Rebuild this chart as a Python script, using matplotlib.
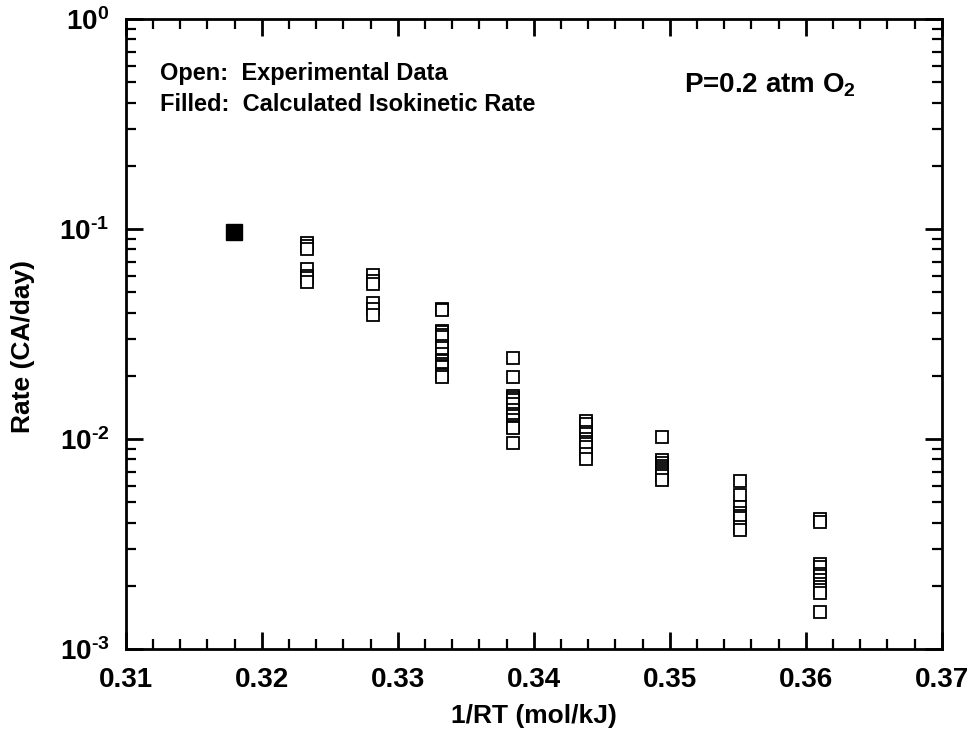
import matplotlib
matplotlib.use("Agg")
import matplotlib.pyplot as plt
from matplotlib.ticker import LogLocator, FixedLocator, MultipleLocator, NullFormatter

plt.rcParams['font.family'] = ['Liberation Sans', 'DejaVu Sans']
plt.rcParams['font.weight'] = 'bold'
plt.rcParams['mathtext.fontset'] = 'custom'
plt.rcParams['mathtext.rm'] = 'Liberation Sans:bold'
plt.rcParams['mathtext.bf'] = 'Liberation Sans:bold'
plt.rcParams['mathtext.it'] = 'Liberation Sans:bold'

# Experimental data (open squares): x = 1/RT, y = rate
x_cols = [0.32333, 0.32818, 0.33327, 0.33848, 0.34386, 0.34945, 0.35518, 0.36105]
rates = [
    [0.0862, 0.0834, 0.0807, 0.0642, 0.0596, 0.0586, 0.0558],
    [0.0601, 0.0564, 0.0550, 0.0445, 0.0415, 0.0389],
    [0.0416, 0.0410, 0.0328, 0.0322, 0.0313, 0.0306, 0.0276, 0.0271, 0.0255,
     0.0239, 0.0234, 0.0228, 0.0223, 0.0220, 0.0205, 0.0201, 0.0197],
    [0.0242, 0.0197, 0.0161, 0.0157, 0.0153, 0.0146, 0.0138, 0.0132, 0.0129,
     0.0123, 0.0116, 0.0114, 0.0113, 0.00952],
    [0.01216, 0.0118, 0.01085, 0.0106, 0.01002, 0.00966, 0.00942, 0.00915,
     0.00851, 0.00799],
    [0.01017, 0.00798, 0.00769, 0.00744, 0.00724, 0.00712, 0.00696, 0.00681,
     0.00663, 0.00638],
    [0.00629, 0.00544, 0.00477, 0.00445, 0.00432, 0.00421, 0.00379, 0.00368],
    [0.00414, 0.00402, 0.00255, 0.00246, 0.00228, 0.00222, 0.00214, 0.00205,
     0.00197, 0.00192, 0.00184, 0.00150],
]
# Calculated isokinetic rate (filled square)
iso_x = [0.31795]
iso_y = [0.0968]

xticks = [0.31, 0.32, 0.33, 0.34, 0.35, 0.36, 0.37]
xticklabels = ['0.31', '0.32', '0.33', '0.34', '0.35', '0.36', '0.37']
yticks = [1e-3, 1e-2, 1e-1, 1e0]
yticklabels = ['$\\mathbf{10^{\u2010 3}}$', '$\\mathbf{10^{\u2010 2}}$',
               '$\\mathbf{10^{\u2010 1}}$', '$\\mathbf{10^{0}}$']

fig = plt.figure(figsize=(9.76, 7.34), dpi=100)
ax = fig.add_axes([0.129, 0.1158, 0.836, 0.8583])

for xc, ys in zip(x_cols, rates):
    ax.plot([xc] * len(ys), ys, linestyle='none', marker='s', markersize=9.2,
            markerfacecolor='white', markeredgecolor='black', markeredgewidth=1.3)
ax.plot(iso_x, iso_y, linestyle='none', marker='s', markersize=11,
        markerfacecolor='black', markeredgecolor='black')

ax.set_yscale('log')
ax.set_xlim(0.31, 0.37)
ax.set_ylim(1e-3, 1e0)

ax.xaxis.set_major_locator(FixedLocator(xticks))
ax.set_xticklabels(xticklabels)
ax.xaxis.set_minor_locator(MultipleLocator(0.002))
ax.yaxis.set_major_locator(FixedLocator(yticks))
ax.set_yticklabels(yticklabels)
ax.yaxis.set_minor_locator(LogLocator(base=10, subs=range(2, 10), numticks=20))
ax.yaxis.set_minor_formatter(NullFormatter())

for sp in ax.spines.values():
    sp.set_linewidth(2)
ax.tick_params(which='major', direction='in', length=12, width=2, top=True, right=True,
               labelsize=20)
ax.tick_params(axis='x', which='major', pad=13)
ax.tick_params(axis='y', which='major', pad=12)
ax.tick_params(which='minor', direction='in', length=7, width=1.6, top=True, right=True)
for lab in ax.get_xticklabels():
    lab.set_fontweight('bold')

ax.set_xlabel('1/RT (mol/kJ)', fontsize=19, fontweight='bold', labelpad=8)
ax.set_ylabel('Rate (CA/day)', fontsize=19, fontweight='bold', labelpad=4)
ax.yaxis.set_label_coords(-0.112, 0.48)

ax.text(0.042, 0.914, 'Open:  Experimental Data', transform=ax.transAxes,
        fontsize=17, fontweight='bold', va='center', ha='left')
ax.text(0.042, 0.865, 'Filled:  Calculated Isokinetic Rate', transform=ax.transAxes,
        fontsize=17, fontweight='bold', va='center', ha='left')
ax.text(0.684, 0.895, r'P=0.2 atm O$_\mathbf{2}$', transform=ax.transAxes,
        fontsize=20, fontweight='bold', va='center', ha='left')

fig.savefig('out.png', dpi=100)
